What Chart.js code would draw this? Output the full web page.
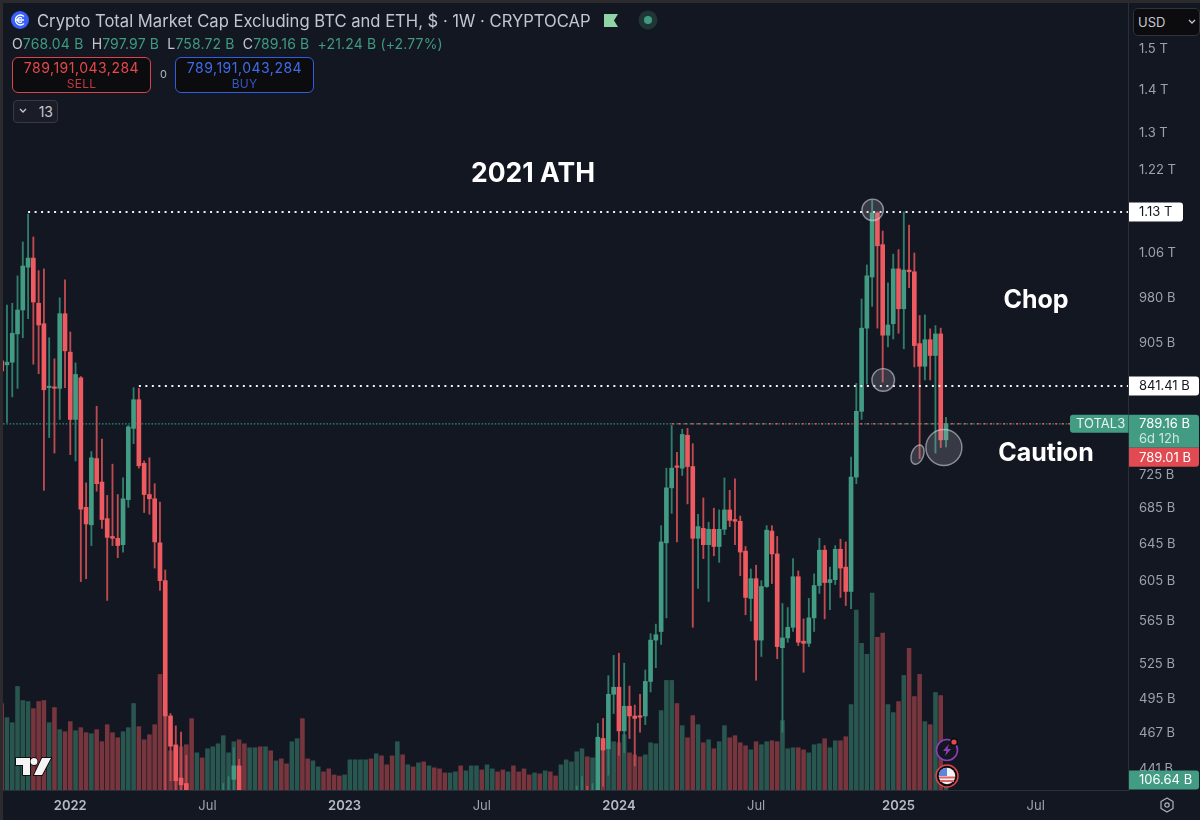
<!DOCTYPE html>
<html>
<head>
<meta charset="utf-8">
<title>TOTAL3 weekly</title>
<script src="https://cdn.jsdelivr.net/npm/chart.js@4"></script>
<style>
  html, body { margin: 0; padding: 0; background: #131722; }
  #wrap { position: relative; width: 1200px; height: 820px; overflow: hidden; font-family: Inter, Roboto, sans-serif; color: #c5c8cf; }
  canvas { position: absolute; left: 0; top: 0; }
  .frame-top { position: absolute; left: 0; top: 0; width: 1200px; height: 3px; background: #2b2b2d; }
  .frame-left { position: absolute; left: 0; top: 0; width: 3px; height: 820px; background: #2b2b2d; }
  .abs { position: absolute; white-space: nowrap; }
  #title { left: 37px; top: 10px; font-size: 16.6px; line-height: 22px; color: #c3c6ce; }
  #ohlc { left: 12px; top: 35px; font-size: 14px; line-height: 18px; color: #3f9a80; letter-spacing: 0.15px; }
  #ohlc b { font-weight: 400; color: #c3c6ce; }
  .trade { left: 12px; top: 57px; width: 137px; border: 1px solid; border-radius: 6px; background: #0c0c0e; text-align: center; font-size: 14px; line-height: 17px; letter-spacing: 0.5px; padding-top: 1px; height: 33px; }
  .trade span { display: block; font-size: 12px; line-height: 15px; letter-spacing: 0.2px; }
  #sell { color: #e5484d; border-color: #d9434a; }
  #sell span { color: #c23b41; }
  #buy { left: 175px; color: #3f6bea; border-color: #2f5fe0; }
  #buy span { color: #3358c4; }
  #spread { left: 160px; top: 68px; font-size: 11px; line-height: 13px; color: #b2b5be; }
  #collapse { left: 13px; top: 100px; width: 43px; height: 21px; border: 1px solid #363a45; border-radius: 4px; background: #1a1d27; font-size: 14px; line-height: 21px; text-align: right; }
  #collapse i { font-style: normal; padding-right: 4px; }
  #currency { left: 1133px; top: 8px; width: 65px; height: 26px; border: 1px solid #30333c; border-radius: 5px; background: #0c0c0f; font-size: 13px; line-height: 26px; color: #c5c8cf; }
  #currency i { font-style: normal; padding-left: 4px; }
  .note { color: #ffffff; font-weight: 700; font-size: 25px; line-height: 30px; transform: translate(-50%, -50%); }
  svg { position: absolute; overflow: visible; }
</style>
</head>
<body>
<div id="wrap">
  <canvas id="chart" width="1200" height="820"></canvas>
  <div class="frame-top"></div>
  <div class="frame-left"></div>

  <svg style="left:11px;top:11px" width="18" height="18" viewBox="0 0 18 18">
    <circle cx="9" cy="9" r="9" fill="#3861fb"/>
    <path d="M13 5.5a5 5 0 1 0 0 7M11 7.5a2.5 2.5 0 1 0 0 3M4 9h9" fill="none" stroke="#fff" stroke-width="1.3"/>
  </svg>
  <div class="abs" id="title">Crypto Total Market Cap Excluding BTC and ETH, $ · 1W · CRYPTOCAP</div>
  <svg style="left:604px;top:14px" width="14" height="13" viewBox="0 0 14 13"><path d="M0 0H14L10 6.5L14 13H0Z" fill="#8fd4a4"/></svg>
  <svg style="left:638px;top:10px" width="20" height="20" viewBox="0 0 20 20"><circle cx="10" cy="10" r="9.5" fill="#1f3536"/><circle cx="10" cy="10" r="4" fill="#3f9a80"/></svg>
  <div class="abs" id="ohlc"><b>O</b>768.04 B&nbsp; <b>H</b>797.97 B&nbsp; <b>L</b>758.72 B&nbsp; <b>C</b>789.16 B&nbsp; +21.24 B (+2.77%)</div>
  <div class="abs trade" id="sell">789,191,043,284<span>SELL</span></div>
  <div class="abs" id="spread">0</div>
  <div class="abs trade" id="buy">789,191,043,284<span>BUY</span></div>
  <div class="abs" id="collapse"><i>13</i></div>
  <svg style="left:19px;top:108px" width="8" height="6" viewBox="0 0 8 6"><path d="M1 1L4 4L7 1" fill="none" stroke="#c5c8cf" stroke-width="1.3"/></svg>
  <div class="abs" id="currency"><i>USD</i></div>
  <svg style="left:1188px;top:19px" width="8" height="6" viewBox="0 0 8 6"><path d="M1 1L4 4L7 1" fill="none" stroke="#c5c8cf" stroke-width="1.3"/></svg>

  <div class="abs note" style="left:533px;top:172px;font-size:26.5px">2021 ATH</div>
  <div class="abs note" style="left:1036px;top:299px">Chop</div>
  <div class="abs note" style="left:1046px;top:452px">Caution</div>

  <svg style="left:15px;top:757px" width="37" height="20" viewBox="0 0 37 20">
    <path d="M1 1H15V18H8V8H1ZM19 1a3.5 3.5 0 1 1 0 7a3.5 3.5 0 1 1 0-7ZM27 1H36L27 18H19Z" fill="#f4f4f4" stroke="#000" stroke-width="1.6" paint-order="stroke"/>
  </svg>
  <svg style="left:935px;top:738px" width="24" height="24" viewBox="0 0 24 24">
    <circle cx="12" cy="12" r="10.5" fill="#131722" stroke="#8e3fb5" stroke-width="1.6"/>
    <path d="M14 6L8 13H11.5L10 18L16 11H12.5Z" fill="#8e3fb5"/>
    <circle cx="19" cy="4" r="4" fill="#0c0c0f"/><circle cx="19" cy="4" r="2.6" fill="#e5484d"/>
  </svg>
  <svg style="left:935px;top:764px" width="24" height="24" viewBox="0 0 24 24">
    <circle cx="12" cy="12" r="11" fill="#0c0c0f" stroke="#e0454a" stroke-width="1.5"/>
    <circle cx="12" cy="12" r="8.3" fill="#f3f3f3"/>
    <path d="M4 13.5H20M5 17H19" stroke="#e0656a" stroke-width="1.8"/>
    <path d="M4 12V9A8 8 0 0 1 12 4V12Z" fill="#5d86d8"/>
  </svg>
  <svg style="left:1159px;top:797px" width="16" height="16" viewBox="0 0 16 16">
    <circle cx="8" cy="8" r="2.2" fill="none" stroke="#b2b5be" stroke-width="1.2"/>
    <path d="M8 1L14 4.5V11.5L8 15L2 11.5V4.5Z" fill="none" stroke="#b2b5be" stroke-width="1.2" stroke-linejoin="round"/>
  </svg>
</div>

<script>
// Weekly OHLC in billions of USD. null means the candle sits below the visible range.
const opens = [
  878,872,876,919,957,1029,1045,968,935,839,
  840,838,951,891,795,853,685,665,744,715,
  672,652,650,643,694,783,822,738,700,695,
  645,605,481,458,433,429,null,null,null,null,
  null,null,415,417,432,442,null,null,null,null,
  null,null,null,null,null,null,null,null,null,null,
  null,null,null,null,null,null,null,null,null,null,
  null,null,null,null,null,null,null,null,null,null,
  null,null,null,null,null,null,null,null,null,null,
  null,null,null,null,null,null,null,null,null,null,
  null,null,null,null,null,null,null,null,null,415,
  416,420,417,424,463,455,499,505,469,489,
  481,481,481,510,547,555,645,708,734,732,
  774,734,650,661,643,660,641,660,682,671,
  669,636,587,607,547,599,658,633,540,549,
  559,609,546,544,568,600,637,603,606,638,
  619,594,721,806,928,1012,1128,1069,917,935,
  1026,959,1024,1021,904,870,910,886,919,768.04
];
const highs = [
  878,965,968,1014,1074,1126,1083,1023,1026,913,
  881,977,1007,922,875,855,714,753,813,769,
  699,737,700,720,787,839,838,741,745,713,
  691,616,483,473,468,450,null,null,null,null,
  null,null,429,434,456,447,null,null,null,null,
  null,null,null,null,null,null,null,null,null,null,
  null,null,null,null,null,null,null,null,null,null,
  null,null,null,null,null,null,null,null,null,null,
  null,null,null,null,null,null,null,null,null,null,
  null,null,null,null,null,null,null,null,null,null,
  null,null,null,null,null,null,null,null,null,427,
  434,427,429,475,479,515,533,535,526,506,
  490,499,520,553,562,664,732,787,752,782,
  783,763,677,696,668,684,682,720,705,719,
  675,641,617,621,605,664,664,652,582,578,
  628,615,567,587,612,650,642,619,642,649,
  646,746,845,975,1033,1153,1130,1094,1002,1052,
  1060,1130,1105,1054,948,949,927,932,928,797.97
];
const lows = [
  863,791,826,838,913,943,873,859,705,771,
  751,795,839,749,741,604,607,642,704,661,
  585,642,629,635,685,763,732,679,677,618,
  595,424,431,424,424,424,null,null,null,null,
  null,null,410,412,424,420,null,null,null,null,
  null,null,null,null,null,null,null,null,null,null,
  null,null,null,null,null,null,null,null,null,null,
  null,null,null,null,null,null,null,null,null,null,
  null,null,null,null,null,null,null,null,null,null,
  null,null,null,null,null,null,null,null,null,null,
  null,null,null,null,null,null,null,null,null,412,
  412,412,413,420,427,435,483,450,452,463,
  442,468,474,501,522,543,568,678,646,723,
  689,559,597,628,584,631,624,654,663,643,
  610,571,565,511,532,598,602,530,468,545,
  555,542,518,541,555,592,567,576,601,588,
  580,577,713,795,844,963,928,847,899,911,
  920,896,994,869,744,850,850,751,758,758.72
];
const closes = [
  863,876,920,957,1031,1045,970,933,836,841,
  838,951,893,795,858,683,666,745,713,671,
  651,650,642,695,785,822,735,700,695,646,
  605,481,457,431,428,423,null,null,null,null,
  null,null,419,421,442,423,null,null,null,null,
  null,null,null,null,null,null,null,null,null,null,
  null,null,null,null,null,null,null,null,null,null,
  null,null,null,null,null,null,null,null,null,null,
  null,null,null,null,null,null,null,null,null,null,
  null,null,null,null,null,null,null,null,null,null,
  null,null,null,null,null,null,null,null,null,420,
  420,417,421,464,454,499,505,469,489,481,
  479,480,510,547,552,646,708,732,733,775,
  734,650,663,643,660,641,660,682,670,669,
  635,588,607,547,599,659,633,541,549,559,
  609,545,544,568,600,637,603,606,638,618,
  594,721,806,928,1014,1128,1067,917,933,1026,
  959,1024,1021,901,870,910,886,919,768,789.16
];
const volumes = [
  917,768,714,1098,949,938,863,938,949,714,
  874,640,618,725,629,661,608,597,640,512,
  693,608,554,618,661,917,672,533,586,693,
  1226,831,416,448,458,480,757,394,341,437,
  458,490,576,394,512,533,490,448,448,458,
  458,416,309,330,277,512,544,757,330,309,
  245,192,224,160,149,160,320,320,320,320,
  330,384,362,267,362,512,373,267,245,288,
  298,256,235,224,181,181,192,256,203,256,
  256,213,267,224,192,213,192,256,192,224,
  160,181,171,203,192,149,267,320,298,405,
  437,352,341,341,426,437,512,501,586,394,
  373,352,373,501,490,842,1162,1162,917,682,
  554,789,693,501,533,437,512,682,554,576,
  501,469,426,512,480,512,522,512,736,437,
  448,448,426,394,480,490,544,448,522,522,
  565,906,1908,1556,1439,2089,1620,1663,906,821,
  938,1215,1503,991,1226,725,693,1034,1002,106.64
];
// 1 = up week, 0 = down week.
const volumeUp = [
  0,1,1,1,1,1,0,0,0,1,
  0,1,0,0,1,0,0,1,0,0,
  0,0,0,1,1,1,0,0,0,0,
  0,0,0,0,0,0,0,1,0,1,
  1,1,1,1,1,0,0,1,1,0,
  1,0,1,0,0,1,1,0,0,1,
  1,0,0,0,0,1,1,1,1,1,
  0,1,0,0,0,1,0,1,0,1,
  0,1,0,0,0,1,1,0,1,1,
  1,0,1,1,0,0,1,0,0,0,
  0,1,0,1,0,0,1,1,1,1,
  1,0,1,1,0,1,1,0,1,0,
  0,0,1,1,1,1,1,1,0,1,
  0,0,1,0,1,0,1,1,0,0,
  0,0,1,0,1,1,0,0,1,1,
  1,0,0,1,1,1,0,1,1,0,
  0,1,1,1,1,1,0,0,1,1,
  0,1,0,0,0,1,0,1,0,1
];

// Axis ticks. Weeks are counted from the first candle on the chart.
const xTickWeeks = [13, 39, 65, 91, 117, 143, 170, 196];
const xTickLabels = ['2022', 'Jul', '2023', 'Jul', '2024', 'Jul', '2025', 'Jul'];
const yTickValues = [1492, 1392, 1294, 1215, 1056, 978, 906, 725, 685, 645, 606, 566, 526, 496, 468, 440];
const yTickLabels = ['1.5 T', '1.4 T', '1.3 T', '1.22 T', '1.06 T', '980 B', '905 B', '725 B', '685 B', '645 B', '605 B', '565 B', '525 B', '495 B', '467 B', '441 B'];

// Drawn levels.
const athLevel = 1130;
const athStartWeek = 5;
const midLevel = 841.41;
const midStartWeek = 26;
const lastPrice = 789.16;
const lastVolume = 106.64;
const rayStartWeek = 127;

// Highlight circles on the candles.
const circleWeeks = [165.1, 167.1, 178.6, 173.6];
const circleValues = [1134, 850, 758, 749];

const weekMin = 0.246;
const weekMax = 213.5;
const priceMin = 424.3;
const priceMax = 1610;
const volumeMax = 8347;

const green = '#429c83';
const red = '#ee5a60';
const greenWick = '#2f7d6b';
const redWick = '#bf4a50';
const greenVolume = 'rgba(66,156,131,0.48)';
const redVolume = 'rgba(238,90,96,0.46)';

const candles = [];
opens.forEach((open, week) => {
  if (open === null) return;
  candles.push({ week, open, high: highs[week], low: lows[week], close: closes[week] });
});

function levelLine(value, startWeek, color, dash, width, order, endWeek = weekMax) {
  return {
    type: 'line',
    data: [{ x: startWeek, y: value }, { x: endWeek, y: value }],
    borderColor: color,
    borderDash: dash,
    borderWidth: width,
    pointRadius: 0,
    tension: 0,
    order
  };
}

// Circles, price tags and the TOTAL3 label.
const overlayPlugin = {
  id: 'overlay',
  afterDatasetsDraw(chart) {
    const { ctx, chartArea } = chart;
    const x = chart.scales.x;
    const y = chart.scales.y;
    const radii = [[10.7, 10.7, 0], [11.3, 11.3, 0], [18, 18, 0], [6, 10, 0.35]];
    ctx.save();
    ctx.beginPath();
    ctx.rect(chartArea.left, chartArea.top, chartArea.width, chartArea.height);
    ctx.clip();
    circleWeeks.forEach((week, i) => {
      ctx.beginPath();
      ctx.ellipse(x.getPixelForValue(week), y.getPixelForValue(circleValues[i]), radii[i][0], radii[i][1], radii[i][2], 0, Math.PI * 2);
      ctx.fillStyle = 'rgba(170,172,182,0.24)';
      ctx.fill();
      ctx.strokeStyle = 'rgba(205,207,214,0.62)';
      ctx.lineWidth = 1.4;
      ctx.stroke();
    });
    ctx.restore();
  },
  afterDraw(chart) {
    const { ctx } = chart;
    const y = chart.scales.y;
    const vol = chart.scales.volume;
    const tag = (left, top, width, height, bg, radius) => {
      ctx.fillStyle = bg;
      ctx.beginPath();
      ctx.roundRect(left, top, width, height, radius);
      ctx.fill();
    };
    const label = (text, px, py, color) => {
      ctx.fillStyle = color;
      ctx.fillText(text, px, py);
    };
    ctx.save();
    ctx.font = '13px Inter, Roboto, sans-serif';
    ctx.textBaseline = 'middle';
    ctx.textAlign = 'left';

    const athY = y.getPixelForValue(athLevel);
    tag(1129, athY - 9.5, 54, 19, '#ffffff', [0, 3, 3, 0]);
    label('1.13 T', 1139, athY + 0.5, '#131722');

    const midY = y.getPixelForValue(midLevel);
    tag(1129, midY - 9.5, 70, 19, '#ffffff', [0, 3, 3, 0]);
    label('841.41 B', 1139, midY + 0.5, '#131722');

    const lastY = y.getPixelForValue(lastPrice);
    tag(1070, lastY - 9, 58.5, 18, '#429c83', [3, 0, 0, 3]);
    label('TOTAL3', 1076, lastY + 0.5, '#e6f2ee');
    tag(1129, lastY - 9, 70, 33, '#429c83', [0, 3, 0, 0]);
    label('789.16 B', 1139, lastY + 0.5, '#ffffff');
    label('6d 12h', 1139, lastY + 15.5, '#cfe6df');
    tag(1129, lastY + 24, 70, 19, '#e04a50', [0, 0, 3, 0]);
    label('789.01 B', 1139, lastY + 34, '#ffffff');

    const volY = vol.getPixelForValue(lastVolume);
    tag(1129, volY - 9.5, 70, 19, '#429c83', [0, 3, 3, 0]);
    label('106.64 B', 1139, volY + 0.5, '#ffffff');
    ctx.restore();
  }
};

new Chart(document.getElementById('chart'), {
  type: 'bar',
  data: {
    datasets: [
      {
        data: volumes.map((value, week) => ({ x: week, y: value })),
        yAxisID: 'volume',
        barThickness: 3.9,
        grouped: false,
        backgroundColor: (c) => (volumeUp[c.dataIndex] ? greenVolume : redVolume),
        order: 6
      },
      levelLine(lastPrice, weekMin, '#2f8a75', [1.6, 1.7], 1.2, 5),
      {
        data: candles.map((c) => ({ x: c.week, y: [c.low, c.high] })),
        barThickness: 1.2,
        grouped: false,
        backgroundColor: candles.map((c) => (c.close >= c.open ? greenWick : redWick)),
        order: 4
      },
      {
        data: candles.map((c) => ({ x: c.week, y: [c.open, c.close] })),
        barThickness: 4,
        minBarLength: 1.5,
        grouped: false,
        backgroundColor: candles.map((c) => (c.close >= c.open ? green : red)),
        order: 3
      },
      levelLine(lastPrice, rayStartWeek, '#e0575c', [2, 4.5], 1.5, 2),
      levelLine(athLevel, athStartWeek, '#f4f4f4', [2, 4.5], 2, 1),
      levelLine(midLevel, midStartWeek, '#f4f4f4', [2, 4.5], 2, 1)
    ]
  },
  options: {
    responsive: false,
    animation: false,
    layout: { padding: { left: 3, top: 3, right: 0, bottom: 0 } },
    plugins: { legend: { display: false }, tooltip: { enabled: false } },
    font: { family: 'Inter, Roboto, sans-serif' },
    scales: {
      x: {
        type: 'linear',
        offset: false,
        min: weekMin,
        max: weekMax,
        grid: { display: false, drawTicks: false },
        border: { display: true, color: '#2a2e39', width: 1 },
        afterBuildTicks: (axis) => {
          axis.ticks = xTickWeeks.map((value) => ({ value }));
        },
        afterFit: (axis) => {
          axis.height = 30;
          axis.paddingLeft = 0;
          axis.paddingRight = 0;
        },
        ticks: {
          autoSkip: false,
          maxRotation: 0,
          padding: 8,
          color: (c) => (xTickLabels[c.index] === 'Jul' ? '#9ea1aa' : '#b7bac3'),
          font: (c) => ({
            family: 'Inter, Roboto, sans-serif',
            size: 13,
            weight: xTickLabels[c.index] === 'Jul' ? 'normal' : '600'
          }),
          callback: (value, index) => xTickLabels[index]
        }
      },
      y: {
        type: 'logarithmic',
        position: 'right',
        min: priceMin,
        max: priceMax,
        grid: { display: false, drawTicks: false },
        border: { display: true, color: '#2a2e39', width: 1 },
        afterBuildTicks: (axis) => {
          axis.ticks = yTickValues.map((value) => ({ value }));
        },
        afterFit: (axis) => {
          axis.width = 72;
          axis.paddingTop = 0;
          axis.paddingBottom = 0;
        },
        ticks: {
          autoSkip: false,
          padding: 11,
          labelOffset: 1,
          color: '#9ea1aa',
          font: { family: 'Inter, Roboto, sans-serif', size: 13 },
          callback: (value, index) => yTickLabels[index]
        }
      },
      volume: {
        type: 'linear',
        display: false,
        min: 0,
        max: volumeMax
      }
    }
  },
  plugins: [overlayPlugin]
});
</script>
</body>
</html>
